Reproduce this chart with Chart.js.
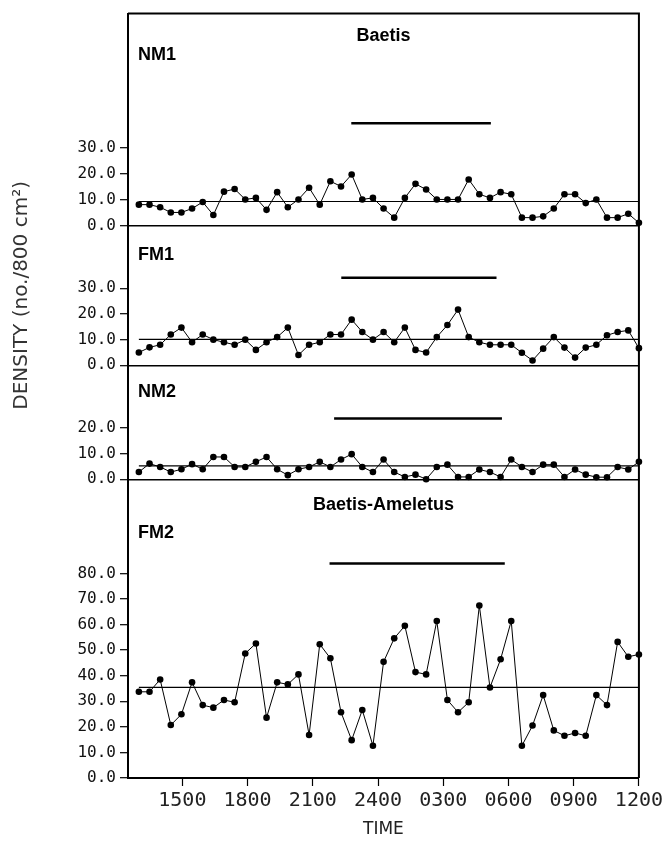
<!DOCTYPE html>
<html>
<head>
<meta charset="utf-8">
<script src="https://cdn.jsdelivr.net/npm/chart.js@4.4.1/dist/chart.umd.min.js"></script>
<style>
  html, body { margin: 0; padding: 0; background: #fff; }
</style>
</head>
<body>
<canvas id="chart" width="666" height="843"></canvas>
<script>
// densities, one value per sample (13:00 -> 12:00 next day)
const nm1 = [8, 8, 7, 5, 5, 6.5, 9, 4, 13, 14,
             10, 10.6, 6, 12.8, 7, 10, 14.5, 8, 17, 15,
             19.6, 10, 10.6, 6.5, 3, 10.6, 16, 13.8, 10, 10,
             10, 17.7, 12, 10.6, 12.8, 12, 3, 3, 3.5, 6.5,
             12, 12, 8.6, 10, 3, 3, 4.5, 1];
const fm1 = [5, 7, 8, 12, 14.7, 9, 12, 10, 9, 8,
             10, 6, 9, 11, 14.7, 4, 8, 9, 12, 12,
             17.8, 13, 10, 13, 9, 14.7, 6, 5, 11, 15.7,
             21.7, 11, 9, 8, 8, 8, 4.9, 1.9, 6.5, 11,
             6.9, 3, 6.9, 8, 11.7, 13, 13.6, 6.7];
const nm2 = [2.8, 6.1, 4.8, 2.8, 3.9, 5.9, 3.9, 8.7, 8.7, 4.8,
             4.8, 6.8, 8.7, 3.9, 1.6, 3.9, 4.8, 6.8, 4.8, 7.7,
             9.8, 4.8, 2.8, 7.7, 2.8, 0.9, 1.8, 0, 4.8, 5.7,
             0.9, 0.9, 3.8, 2.8, 0.9, 7.7, 4.8, 2.8, 5.7, 5.7,
             0.9, 3.8, 1.8, 0.8, 0.8, 4.8, 3.8, 6.8];
const fm2 = [33.7, 33.7, 38.5, 20.7, 24.9, 37.4, 28.5, 27.5, 30.5, 29.6,
             48.7, 52.6, 23.6, 37.4, 36.6, 40.5, 16.8, 52.3, 46.8, 25.7,
             14.8, 26.6, 12.6, 45.4, 54.6, 59.5, 41.4, 40.5, 61.4, 30.5,
             25.7, 29.6, 67.4, 35.4, 46.4, 61.4, 12.6, 20.5, 32.4, 18.6,
             16.5, 17.6, 16.5, 32.4, 28.5, 53.2, 47.4, 48.3];

const panelNames = ['NM1', 'FM1', 'NM2', 'FM2'];
const panelMeans = [9.2, 10.1, 5.2, 35.4];
// darkness bars: start / end hour and the level they sit at
const nightStart = [22.77, 22.31, 21.98, 21.77];
const nightEnd = [29.19, 29.45, 29.7, 29.83];
const nightLevel = [39.3, 34.1, 23.7, 83.9];

const yTicks = [[0, 10, 20, 30], [0, 10, 20, 30], [0, 10, 20], [0, 10, 20, 30, 40, 50, 60, 70, 80]];
const xTickHours = [15, 18, 21, 24, 27, 30, 33, 36];
const xTickLabels = ['1500', '1800', '2100', '2400', '0300', '0600', '0900', '1200'];

const firstHour = 13, lastHour = 36;
const series = [nm1, fm1, nm2, fm2];
const axisIds = ['y1', 'y2', 'y3', 'y4'];
const yMax = [81.5, 54.5, 44.5, 116.8];
const yWeight = [212, 140, 114, 299];

const datasets = [];
series.forEach((vals, p) => {
  const step = (lastHour - firstHour) / (vals.length - 1);
  datasets.push({
    data: vals.map((v, i) => ({ x: firstHour + i * step, y: v })),
    yAxisID: axisIds[p],
    borderColor: '#000', borderWidth: 1,
    pointRadius: 3.3, pointBackgroundColor: '#000', pointBorderWidth: 0,
    clip: false
  });
  datasets.push({
    data: [{ x: firstHour, y: panelMeans[p] }, { x: lastHour, y: panelMeans[p] }],
    yAxisID: axisIds[p],
    borderColor: '#000', borderWidth: 1.2, pointRadius: 0, clip: false
  });
  datasets.push({
    data: [{ x: nightStart[p], y: nightLevel[p] }, { x: nightEnd[p], y: nightLevel[p] }],
    yAxisID: axisIds[p],
    borderColor: '#000', borderWidth: 2.5, pointRadius: 0
  });
});

function yScale(p) {
  return {
    type: 'linear', position: 'left', stack: 'panels', stackWeight: yWeight[p],
    min: 0, max: yMax[p],
    afterBuildTicks: s => { s.ticks = yTicks[p].map(v => ({ value: v })); },
    afterFit: s => { s.width = 128; },
    ticks: {
      autoSkip: false, padding: 4, color: '#111',
      font: { family: 'DejaVu Sans Mono', size: 16 },
      callback: v => v.toFixed(1)
    },
    grid: {
      color: c => (c.tick && c.tick.value === 0) ? '#000' : 'rgba(0,0,0,0)',
      tickColor: '#000', tickLength: 8, lineWidth: 1.4, tickWidth: 1.2
    },
    border: { color: '#000', width: 2 },
    title: {
      display: p === 1, text: 'DENSITY (no./800 cm²)', color: '#333',
      font: { family: 'DejaVu Sans', size: 20, weight: 'normal' },
      padding: { top: 10, bottom: 0 }
    }
  };
}

// outer frame (top and right)
const frame = {
  id: 'frame',
  afterDatasetsDraw(chart) {
    const { ctx, chartArea: a } = chart;
    ctx.save();
    ctx.strokeStyle = '#000';
    ctx.lineWidth = 2;
    ctx.beginPath();
    ctx.moveTo(a.left, a.top);
    ctx.lineTo(a.right, a.top);
    ctx.lineTo(a.right, a.bottom);
    ctx.stroke();
    ctx.restore();
  }
};

// panel labels and species headings
const labels = {
  id: 'labels',
  afterDatasetsDraw(chart) {
    const { ctx, chartArea: a, scales } = chart;
    const mid = (a.left + a.right) / 2;
    ctx.save();
    ctx.fillStyle = '#000';
    ctx.textBaseline = 'middle';
    ctx.font = 'bold 18px "Liberation Sans", Arial, sans-serif';
    ctx.textAlign = 'center';
    ctx.fillText('Baetis', mid, scales.y1.getPixelForValue(73));
    ctx.fillText('Baetis-Ameletus', mid, scales.y4.getPixelForValue(106.6));
    ctx.textAlign = 'left';
    const lvl = [[scales.y1, 65.4], [scales.y2, 42.8], [scales.y3, 34], [scales.y4, 95.7]];
    panelNames.forEach((n, i) => {
      ctx.fillText(n, a.left + 10, lvl[i][0].getPixelForValue(lvl[i][1]));
    });
    ctx.restore();
  }
};

new Chart(document.getElementById('chart'), {
  type: 'line',
  data: { datasets },
  options: {
    responsive: false,
    animation: false,
    devicePixelRatio: 1,
    layout: { padding: { top: 13, right: 27, left: 0, bottom: 0 } },
    plugins: { legend: { display: false }, tooltip: { enabled: false } },
    scales: {
      x: {
        type: 'linear', position: 'bottom', min: 12.5, max: 36,
        afterBuildTicks: s => { s.ticks = xTickHours.map(v => ({ value: v })); },
        afterFit: s => { s.height = 65; },
        ticks: {
          autoSkip: false, maxRotation: 0, padding: 3, color: '#222',
          font: { family: 'DejaVu Sans Mono', size: 20 },
          callback: v => xTickLabels[xTickHours.indexOf(v)]
        },
        grid: { drawOnChartArea: false, tickColor: '#000', tickLength: 8, tickWidth: 1.2 },
        border: { color: '#000', width: 2 },
        title: {
          display: true, text: 'TIME', color: '#222',
          font: { family: 'DejaVu Sans', size: 17, weight: 'normal' },
          padding: { top: 0, bottom: 3 }
        }
      },
      // declared bottom-up so the first panel ends up on top of the stack
      y4: yScale(3),
      y3: yScale(2),
      y2: yScale(1),
      y1: yScale(0)
    }
  },
  plugins: [frame, labels]
});
</script>
</body>
</html>
